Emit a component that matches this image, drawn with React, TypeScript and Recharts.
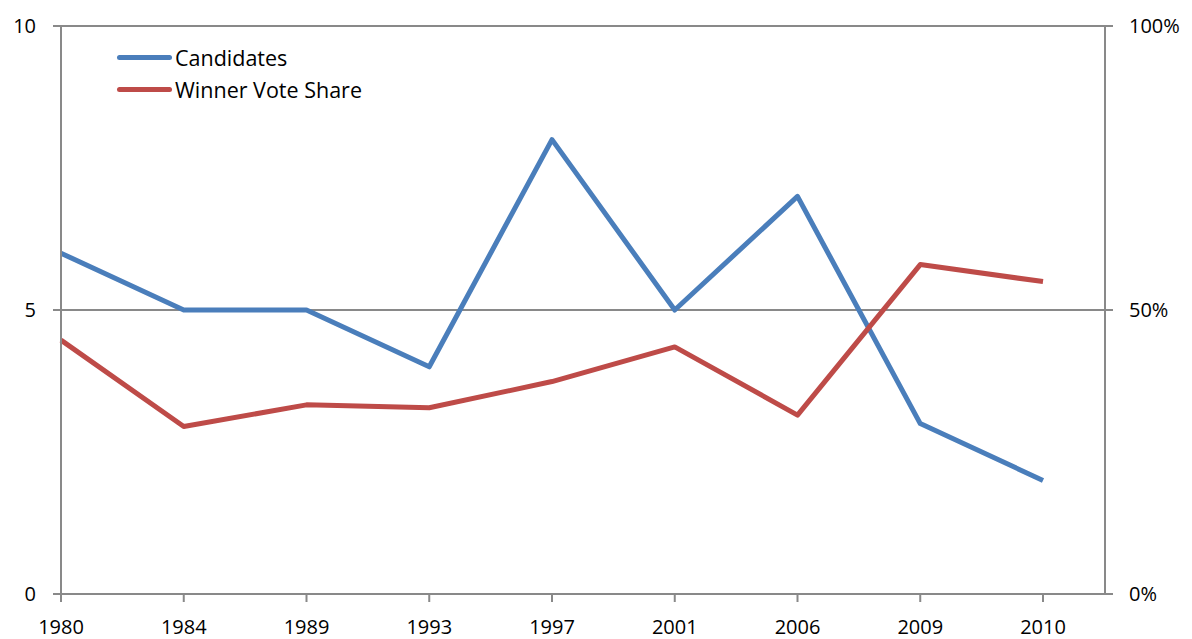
import { LineChart, Line, XAxis, YAxis, CartesianGrid } from "recharts"

const years = ["1980", "1984", "1989", "1993", "1997", "2001", "2006", "2009", "2010"]
const candidates = [6, 5, 5, 4, 8, 5, 7, 3, 2]
const winnerShare = [0.447, 0.295, 0.333, 0.328, 0.374, 0.435, 0.315, 0.58, 0.55]
const leftTicks = [0, 5, 10]
const rightTicks = [0, 0.5, 1]

const data = years.map((year, i) => ({
  year,
  candidates: candidates[i],
  share: winnerShare[i],
}))

const BLUE = "#4a7ebb"
const RED = "#be4b48"
const AXIS = "#898989"
const FONT = "'Open Sans', sans-serif"

const legendItems = [
  { label: "Candidates", color: BLUE },
  { label: "Winner Vote Share", color: RED },
]

// legend sits inside the plot area, so draw it as an overlay
function LegendBox() {
  return (
    <div style={{ position: "absolute", left: 117, top: 41, fontFamily: FONT, fontSize: 21.5, color: "#000" }}>
      {legendItems.map((item) => (
        <div key={item.label} style={{ display: "flex", alignItems: "center", height: 32 }}>
          <span
            style={{
              display: "inline-block",
              width: 55,
              height: 5,
              borderRadius: 3,
              background: item.color,
              marginRight: 3,
            }}
          />
          <span>{item.label}</span>
        </div>
      ))}
    </div>
  )
}

export default function App() {
  const tickStyle = { fontFamily: FONT, fontSize: 20, fill: "#000" }
  return (
    <div style={{ position: "absolute", left: 0, top: 0, width: 1192, height: 639, background: "#fff" }}>
      <LineChart width={1192} height={639} data={data} margin={{ top: 26, right: 0, bottom: 0, left: 0 }}>
        <CartesianGrid yAxisId="left" vertical={false} stroke={AXIS} strokeWidth={2} />
        <XAxis
          dataKey="year"
          padding={{ left: 0, right: 62 }}
          height={45}
          tick={tickStyle}
          tickLine={{ stroke: AXIS, strokeWidth: 2 }}
          axisLine={{ stroke: AXIS, strokeWidth: 2 }}
          tickSize={8}
          tickMargin={18}
          interval={0}
        />
        <YAxis
          yAxisId="left"
          width={61}
          domain={[0, 10]}
          ticks={leftTicks}
          tick={tickStyle}
          tickLine={{ stroke: AXIS, strokeWidth: 2 }}
          axisLine={{ stroke: AXIS, strokeWidth: 2 }}
          tickSize={8}
          tickMargin={17}
        />
        <YAxis
          yAxisId="right"
          orientation="right"
          width={87}
          domain={[0, 1]}
          ticks={rightTicks}
          tickFormatter={(v: number) => `${Math.round(v * 100)}%`}
          tick={tickStyle}
          tickLine={{ stroke: AXIS, strokeWidth: 2 }}
          axisLine={{ stroke: AXIS, strokeWidth: 2 }}
          tickSize={8}
          tickMargin={16}
        />
        <Line
          yAxisId="left"
          dataKey="candidates"
          stroke={BLUE}
          strokeWidth={5}
          strokeLinejoin="round"
          dot={false}
          isAnimationActive={false}
        />
        <Line
          yAxisId="right"
          dataKey="share"
          stroke={RED}
          strokeWidth={5}
          strokeLinejoin="round"
          dot={false}
          isAnimationActive={false}
        />
      </LineChart>
      <LegendBox />
    </div>
  )
}
